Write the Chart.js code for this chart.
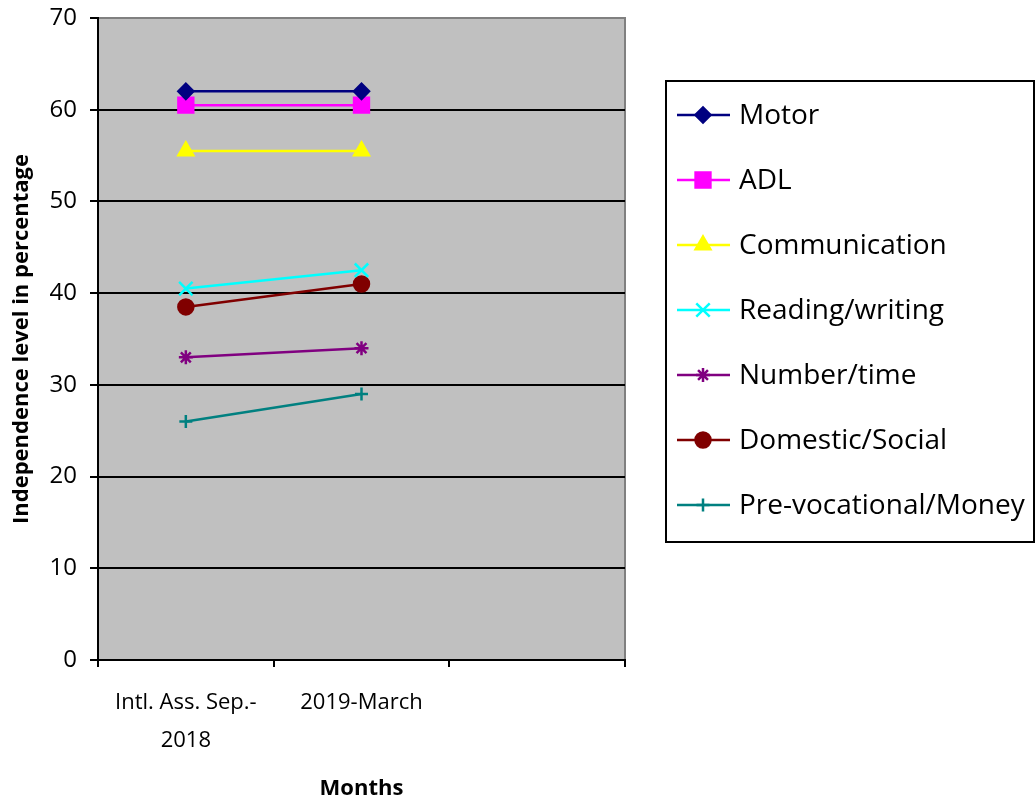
<!DOCTYPE html>
<html>
<head>
<meta charset="utf-8">
<script src="https://cdn.jsdelivr.net/npm/chart.js@4.4.1/dist/chart.umd.min.js"></script>
<style>
  html, body { margin: 0; padding: 0; background: #fff; }
  #wrap { width: 1036px; height: 804px; }
</style>
</head>
<body>
<div id="wrap"><canvas id="chart" width="1036" height="804"></canvas></div>
<script>
const months = [['Intl. Ass. Sep.-', '2018'], '2019-March', ''];
const yTicks = [0, 10, 20, 30, 40, 50, 60, 70];

const motor = [62, 62, null];
const adl = [60.5, 60.5, null];
const communication = [55.5, 55.5, null];
const readingWriting = [40.5, 42.5, null];
const numberTime = [33, 34, null];
const domesticSocial = [38.5, 41, null];
const preVocational = [26, 29, null];

const FONT = 'Open Sans';

function series(label, data, color, style, radius) {
    return {
        label: label, data: data,
        borderColor: color, backgroundColor: color,
        pointBackgroundColor: color, pointBorderColor: color,
        borderWidth: 2.5, pointStyle: style, pointRadius: radius,
        pointBorderWidth: 2.5, tension: 0
    };
}

const datasets = [
    series('Motor', motor, '#000080', 'rectRot', 7.5),
    series('ADL', adl, '#FF00FF', 'rect', 10.5),
    series('Communication', communication, '#FFFF00', 'triangle', 8.5),
    series('Reading/writing', readingWriting, '#00FFFF', 'crossRot', 9.5),
    series('Number/time', numberTime, '#800080', 'star', 7),
    series('Domestic/Social', domesticSocial, '#800000', 'circle', 7.5),
    series('Pre-vocational/Money', preVocational, '#008080', 'cross', 6.5)
];

// gray plot area with gray top/right border
const plotBg = {
    id: 'plotBg',
    beforeDraw(chart) {
        const { ctx, chartArea: a } = chart;
        ctx.save();
        ctx.fillStyle = '#C0C0C0';
        ctx.fillRect(a.left, a.top, a.right - a.left, a.bottom - a.top);
        ctx.strokeStyle = '#808080';
        ctx.lineWidth = 2;
        ctx.beginPath();
        ctx.moveTo(a.left, a.top);
        ctx.lineTo(a.right, a.top);
        ctx.lineTo(a.right, a.bottom);
        ctx.stroke();
        ctx.restore();
    }
};

// boxed legend with line + marker samples
const boxLegend = {
    id: 'boxLegend',
    afterDraw(chart) {
        const ctx = chart.ctx;
        const box = { x: 666, y: 81, w: 368, h: 461 };
        ctx.save();
        ctx.strokeStyle = '#000';
        ctx.lineWidth = 2;
        ctx.strokeRect(box.x, box.y, box.w, box.h);
        ctx.font = '28px "' + FONT + '"';
        ctx.textBaseline = 'middle';
        chart.data.datasets.forEach((ds, i) => {
            const y = 115 + i * 65;
            ctx.strokeStyle = ds.borderColor;
            ctx.lineWidth = 2.5;
            ctx.beginPath();
            ctx.moveTo(677, y);
            ctx.lineTo(730, y);
            ctx.stroke();
            ctx.fillStyle = ds.borderColor;
            Chart.helpers.drawPoint(ctx, {
                pointStyle: ds.pointStyle, radius: ds.pointRadius,
                rotation: 0, borderWidth: 2.5
            }, 703, y);
            ctx.fillStyle = '#000';
            ctx.fillText(ds.label, 739, y + 1);
        });
        ctx.restore();
    }
};

new Chart(document.getElementById('chart'), {
    type: 'line',
    data: { labels: months, datasets: datasets },
    plugins: [plotBg, boxLegend],
    options: {
        responsive: false,
        animation: false,
        layout: { padding: { left: 9, right: 411, top: 18, bottom: 0 } },
        plugins: { legend: { display: false }, tooltip: { enabled: false } },
        scales: {
            x: {
                offset: true,
                grid: { offset: true, drawOnChartArea: false, color: '#000', lineWidth: 2, tickLength: 7 },
                border: { color: '#000', width: 2 },
                ticks: { color: '#000', font: { family: FONT, size: 22, lineHeight: 1.72 }, padding: 17, maxRotation: 0, autoSkip: false },
                title: { display: true, text: 'Months', color: '#000', font: { family: FONT, size: 22, weight: 'bold' }, padding: { top: 20, bottom: 2 } },
                afterFit(scale) { scale.height = 144; }
            },
            y: {
                min: 0, max: 70,
                afterBuildTicks(scale) { scale.ticks = yTicks.map(v => ({ value: v })); },
                grid: {
                    color: c => (c.tick && c.tick.value === 70 ? '#808080' : '#000'),
                    lineWidth: 2, tickLength: 8, tickColor: '#000'
                },
                border: { color: '#000', width: 2 },
                ticks: { color: '#000', font: { family: FONT, size: 24 }, padding: 13 },
                title: { display: true, text: 'Independence level in percentage', color: '#000', font: { family: FONT, size: 22, weight: 'bold' }, padding: 0 },
                afterFit(scale) {
                    scale.width = 89;
                    scale.paddingTop = 0;
                    scale.paddingBottom = 0;
                }
            }
        }
    }
});
</script>
</body>
</html>
